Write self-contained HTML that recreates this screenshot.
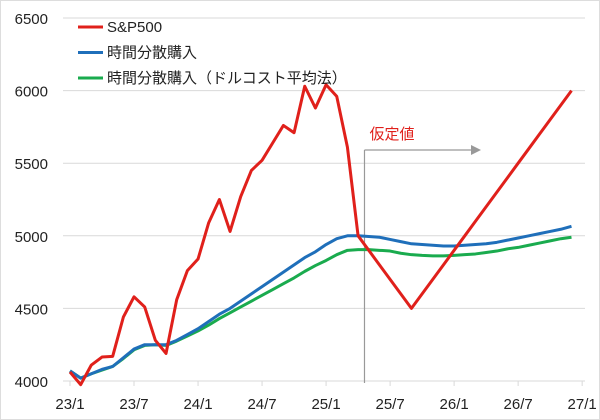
<!DOCTYPE html>
<html><head><meta charset="utf-8">
<style>
html,body{margin:0;padding:0;background:#fff;}
#wrap{width:600px;height:420px;position:relative;overflow:hidden;}
svg text{font-family:"Liberation Sans","Noto Sans CJK JP",sans-serif;}
</style></head>
<body>
<div id="wrap">
<svg id="chart" width="600" height="420">
<rect x="0.5" y="0.5" width="599" height="419" fill="#fff" stroke="#ddd"/>
</svg>
</div>
<script>
const yTicks=[4000,4500,5000,5500,6000,6500];
const xTickLabels=["23/1","23/7","24/1","24/7","25/1","25/7","26/1","26/7","27/1"];
const sp500=[4062,3975,4110,4165,4170,4440,4580,4510,4280,4190,4560,4760,4840,5090,5250,5030,5270,5450,5520,5640,5760,5710,6030,5880,6040,5960,5610,5000,4900,4800,4700,4600,4500,4600,4700,4800,4900,5000,5100,5200,5300,5400,5500,5600,5700,5800,5900,6000];
const blueAvg=[4070,4020,4050,4080,4100,4160,4220,4250,4250,4250,4280,4320,4360,4410,4460,4500,4550,4600,4650,4700,4750,4800,4850,4890,4940,4980,5000,5000,4995,4990,4975,4960,4945,4940,4935,4930,4930,4935,4940,4945,4955,4970,4985,5000,5015,5030,5045,5065];
const greenDca=[4070,4020,4050,4075,4100,4155,4215,4245,4250,4245,4275,4310,4345,4385,4430,4470,4510,4550,4590,4630,4670,4710,4755,4795,4830,4870,4900,4905,4905,4900,4895,4880,4870,4865,4862,4862,4865,4870,4875,4885,4895,4910,4920,4935,4950,4965,4980,4990];
const seriesNames=["S&P500","時間分散購入","時間分散購入（ドルコスト平均法）"];
const assumeMonth=27.6;

const NS="http://www.w3.org/2000/svg";
const svg=document.getElementById('chart');
const X=m=>70+m*10.67;
const Y=v=>381-(v-4000)*0.1452;
function mk(tag,attrs){const e=document.createElementNS(NS,tag);for(const k in attrs)e.setAttribute(k,attrs[k]);svg.appendChild(e);return e;}

yTicks.forEach(v=>{
  const g=mk('line',{x1:63,x2:585,y1:Y(v),y2:Y(v),stroke:'#d9d9d9','stroke-width':1});
  
  
  const t=mk('text',{x:48,y:Y(v)+6,'text-anchor':'end','font-size':15,fill:'#222'});
  t.textContent=v;
  
  
});
xTickLabels.forEach((l,i)=>{
  const tk=mk('line',{x1:X(i*6),x2:X(i*6),y1:381,y2:386,stroke:'#d9d9d9'});
  
  
  const t=mk('text',{x:X(i*6),y:409,'text-anchor':'middle','font-size':15,fill:'#222'});
  t.textContent=l;
  
  
});
const vx=X(assumeMonth);
const vl=mk('line',{x1:vx,x2:vx,y1:150,y2:383,stroke:'#999','stroke-width':1.2});


const ar=mk('line',{x1:vx,x2:472,y1:150,y2:150,stroke:'#999','stroke-width':1.2});


const ah=mk('polygon',{points:'481,150 471,145 471,155',fill:'#999'});


const at=mk('text',{x:vx+5,y:139,'font-size':15,fill:'#e0201b'});
at.textContent='仮定値';



function line(data,color,name){
  const p=mk('polyline',{points:data.map((v,i)=>X(i)+','+Y(v)).join(' '),fill:'none',stroke:color,'stroke-width':3,'stroke-linejoin':'round'});
  
  
}
line(greenDca,'#1aab4e','series-dca');
line(blueAvg,'#1f6fba','series-time-diversified');
line(sp500,'#e0201b','series-sp500');

const colors=['#e0201b','#1f6fba','#1aab4e'];
seriesNames.forEach((n,i)=>{
  const y=27+i*25.5;
  const l=mk('line',{x1:78,x2:103,y1:y,y2:y,stroke:colors[i],'stroke-width':3});
  
  
  const t=mk('text',{x:107,y:y+5,'font-size':15,fill:'#222'});
  t.textContent=n;
  
  
});
</script>
</body></html>
